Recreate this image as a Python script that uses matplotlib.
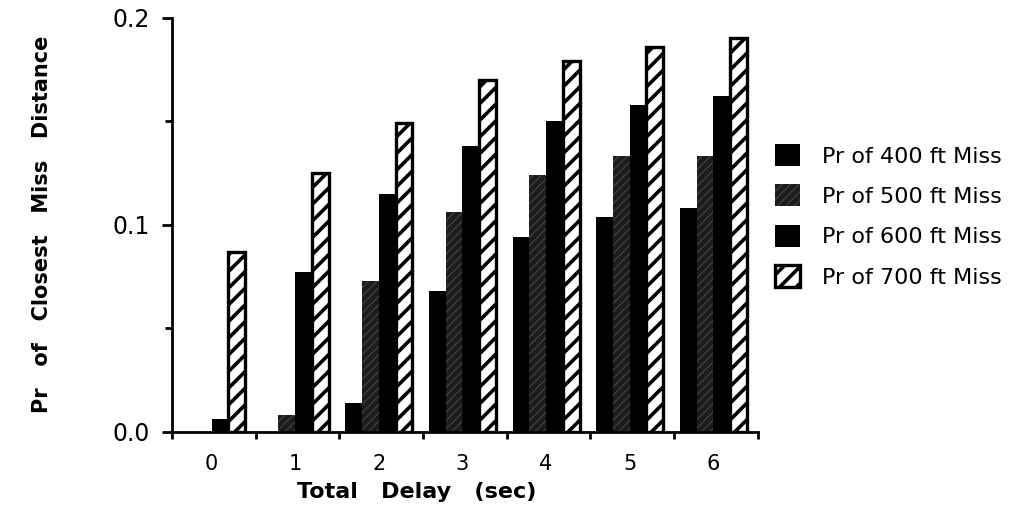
import matplotlib
matplotlib.use("Agg")
import matplotlib.pyplot as plt
import numpy as np
from matplotlib.patches import Patch
from matplotlib.ticker import FixedLocator

# data
delays = ["0", "1", "2", "3", "4", "5", "6"]
pr_400 = [0.000, 0.000, 0.014, 0.068, 0.094, 0.104, 0.108]
pr_500 = [0.000, 0.008, 0.073, 0.106, 0.124, 0.133, 0.133]
pr_600 = [0.006, 0.077, 0.115, 0.138, 0.150, 0.158, 0.162]
pr_700 = [0.087, 0.125, 0.149, 0.170, 0.179, 0.186, 0.190]
labels = ["Pr of 400 ft Miss", "Pr of 500 ft Miss",
          "Pr of 600 ft Miss", "Pr of 700 ft Miss"]

plt.rcParams["font.family"] = ["DejaVu Sans"]
plt.rcParams["hatch.linewidth"] = 2.6

fig = plt.figure(figsize=(10.13, 5.08), dpi=100)
ax = fig.add_axes([0.170, 0.150, 0.578, 0.815])

x = np.arange(len(delays))
w = 0.2

STIPPLE = dict(facecolor="#1c1c1c", edgecolor="#4a4a4a", hatch="////", lw=0)
STRIPE = dict(facecolor="white", edgecolor="black", hatch="//", lw=2.4)


def thin_hatch(patches, lw):
    # per-patch hatch width where the matplotlib version allows it
    for p in patches:
        if hasattr(p, "set_hatch_linewidth"):
            p.set_hatch_linewidth(lw)


ax.bar(x - 1.5 * w, pr_400, w, color="black", lw=0)
b500 = ax.bar(x - 0.5 * w, pr_500, w, **STIPPLE)
thin_hatch(b500, 0.7)
ax.bar(x + 0.5 * w, pr_600, w, color="black", lw=0)
ax.bar(x + 1.5 * w, pr_700, w, **STRIPE)

ax.set_xlim(-0.47, 6.53)
ax.set_ylim(0, 0.2)

for s in ["top", "right"]:
    ax.spines[s].set_visible(False)
for s in ["left", "bottom"]:
    ax.spines[s].set_linewidth(2)

ax.set_xticks(x)
ax.set_xticklabels(delays, fontsize=15)
ax.xaxis.set_minor_locator(FixedLocator(np.arange(8) - 0.47))
ax.tick_params(axis="x", which="major", length=0, pad=16)
ax.tick_params(axis="x", which="minor", length=5, width=2, direction="out")

ax.set_yticks([0.0, 0.1, 0.2])
ax.set_yticklabels(["0.0", "0.1", "0.2"], fontsize=17)
ax.yaxis.set_minor_locator(FixedLocator([0.05, 0.15]))
ax.tick_params(axis="y", which="major", length=7, width=2, pad=9)
ax.tick_params(axis="y", which="minor", length=5, width=2)

ax.set_xlabel("Total   Delay   (sec)", fontsize=16, fontweight="bold")
ax.xaxis.set_label_coords(0.418, -0.122)
ax.set_ylabel("Pr   of   Closest   Miss   Distance", fontsize=15,
              fontweight="bold")
ax.yaxis.set_label_coords(-0.205, 0.5)

handles = [Patch(facecolor="black", lw=0), Patch(**STIPPLE),
           Patch(facecolor="black", lw=0), Patch(**STRIPE)]
leg = fig.legend(handles, labels, loc="upper left",
                 bbox_to_anchor=(0.756, 0.734), frameon=False, fontsize=16,
                 handlelength=1.15, handleheight=1.15, handletextpad=1.0,
                 labelspacing=0.8, borderaxespad=0)
thin_hatch(leg.get_patches()[1:2], 0.7)

fig.savefig("out.png", dpi=100)
